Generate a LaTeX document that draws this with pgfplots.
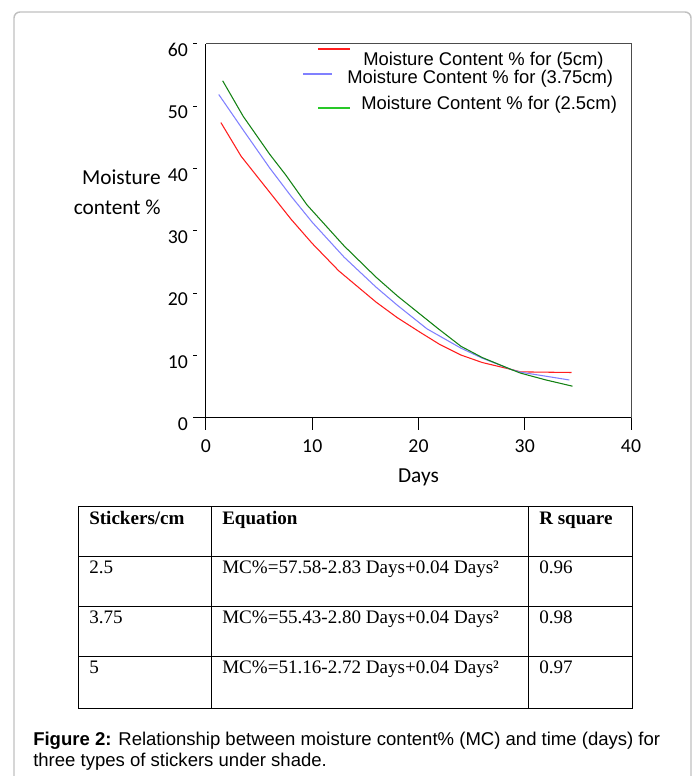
\documentclass[border=0pt]{standalone}
\usepackage{pgfplots}
\pgfplotsset{compat=1.18}
\usepackage{fontspec}
\setmainfont{Carlito}
\newfontfamily\arialf{Liberation Sans}
\newfontfamily\timesf{Liberation Serif}

\definecolor{cred}{RGB}{255,30,30}
\definecolor{cblue}{RGB}{128,128,255}
\definecolor{cgreen}{RGB}{20,130,20}
\definecolor{lgreen}{RGB}{40,200,40}
\definecolor{outline}{RGB}{192,192,192}

\begin{document}
\begin{tikzpicture}[x=0.75pt,y=0.75pt]
\useasboundingbox (0,0) rectangle (697,776);
% outer box of the figure
\draw[outline, line width=1.1pt, rounded corners=4.5pt] (14,-30) -- (14,{776-12}) -- (691,{776-12}) -- (691,-30);

\begin{axis}[
  at={(154.5pt,268.5pt)}, anchor=south west,
  scale only axis, width=318.75pt, height=280.5pt,
  xmin=0, xmax=40, ymin=0, ymax=60,
  axis lines=left, axis line style={black, line width=0.75pt, -},
  xtick={0,10,20,30,40}, ytick={0,10,...,60},
  tick align=outside, major tick length=9pt,
  ytick style={draw=none},
  xtick style={black, line width=0.75pt},
  tick label style={font=\fontsize{14.8}{17}\selectfont},
  /pgf/number format/assume math mode=true,
  xticklabel style={yshift=-4pt},
  yticklabel style={yshift=-4.5pt, xshift=-1pt},
  xlabel={Days}, ylabel={Moisture\\content \%},
  label style={font=\fontsize{16}{22.5}\selectfont},
  xlabel style={at={(axis description cs:0.5,-0.158)}, anchor=center},
  ylabel style={at={(axis description cs:-0.106,0.604)}, rotate=-90, anchor=east, align=right, inner sep=0pt},
  clip=false,
]
% 5 cm
\addplot[cred, line width=0.8pt] coordinates {
  (1.4,47.4) (3.3,42.0) (6,36.2) (8,31.9) (10,28.0) (12.5,23.6) (16,18.6)
  (18,16.1) (20.2,13.7) (22,11.8) (24,10.1) (26,8.9) (28.7,7.8) (29.6,7.4) (34.4,7.3)};
% 3.75 cm
\addplot[cblue, line width=0.8pt] coordinates {
  (1.2,51.9) (3.5,46.2) (6,40.1) (8,35.6) (10,31.4) (13,25.8) (16,21.0)
  (18,18.1) (20.8,14.3) (24,11.2) (26,9.6) (28.7,7.8) (29.6,7.35) (32,6.7) (34.2,6.1)};
% 2.5 cm
\addplot[cgreen, line width=0.8pt] coordinates {
  (1.57,54.1) (3.5,48.4) (6,42.3) (7.5,39.0) (9.5,34.2) (13,27.6) (16,22.6)
  (18,19.6) (21.8,14.4) (24,11.5) (26,9.7) (28.7,7.8) (29.6,7.2) (32,6.1) (34.5,5.1)};
% frame and detached y ticks
\draw[black!70, line width=0.75pt] (rel axis cs:0,1) -- (rel axis cs:1,1) -- (rel axis cs:1,0);
\draw[black, line width=0.75pt] (axis cs:0,0) -- ++(-9.75pt,0);
\draw[black, line width=0.75pt] (axis cs:0,10) ++(-6.75pt,0) -- ++(-3pt,0);
\draw[black, line width=0.75pt] (axis cs:0,20) ++(-6.75pt,0) -- ++(-3pt,0);
\draw[black, line width=0.75pt] (axis cs:0,30) ++(-6.75pt,0) -- ++(-3pt,0);
\draw[black, line width=0.75pt] (axis cs:0,40) ++(-6.75pt,0) -- ++(-3pt,0);
\draw[black, line width=0.75pt] (axis cs:0,50) ++(-6.75pt,0) -- ++(-3pt,0);
\draw[black, line width=0.75pt] (axis cs:0,60) ++(-6.75pt,0) -- ++(-3pt,0);
\end{axis}

% legend, as loosely set as in the original
\draw[cred, line width=0.8pt] (318,{776-49}) -- (350,{776-49});
\node[anchor=base west, inner sep=0pt, font=\arialf\fontsize{13.8}{16}\selectfont] at (363,{776-65.5}) {Moisture Content \% for (5cm)};
\draw[cblue, line width=0.8pt] (303,{776-74}) -- (332,{776-74});
\node[anchor=base west, inner sep=0pt, font=\arialf\fontsize{13.8}{16}\selectfont] at (347,{776-83.5}) {Moisture Content \% for (3.75cm)};
\draw[lgreen, line width=0.8pt] (318,{776-108}) -- (350,{776-108});
\node[anchor=base west, inner sep=0pt, font=\arialf\fontsize{13.8}{16}\selectfont] at (361,{776-110}) {Moisture Content \% for (2.5cm)};

% table of fitted equations
\draw[black, line width=0.75pt] (78,{776-507}) rectangle (632,{776-709});
\draw[black, line width=0.75pt] (78,{776-557}) -- (632,{776-557});
\draw[black, line width=0.75pt] (78,{776-607}) -- (632,{776-607});
\draw[black, line width=0.75pt] (78,{776-657}) -- (632,{776-657});
\draw[black, line width=0.75pt] (211,{776-507}) -- (211,{776-709});
\draw[black, line width=0.75pt] (528,{776-507}) -- (528,{776-709});
\begin{scope}[every node/.style={anchor=base west, inner sep=0pt, font=\timesf\fontsize{14.3}{16}\selectfont}]
\node at (89,{776-525}) {\bfseries Stickers/cm};
\node at (222,{776-525}) {\bfseries Equation};
\node at (539,{776-525}) {\bfseries R square};
\node at (89,{776-574}) {2.5};
\node at (222,{776-574}) {MC\%=57.58-2.83 Days+0.04 Days²};
\node at (539,{776-574}) {0.96};
\node at (89,{776-624}) {3.75};
\node at (222,{776-624}) {MC\%=55.43-2.80 Days+0.04 Days²};
\node at (539,{776-624}) {0.98};
\node at (89,{776-674}) {5};
\node at (222,{776-674}) {MC\%=51.16-2.72 Days+0.04 Days²};
\node at (539,{776-674}) {0.97};
\end{scope}

% caption
\node[anchor=base west, inner sep=0pt, font=\arialf\fontsize{13.9}{16}\selectfont] at (33,{776-745})
  {\textbf{Figure 2:} Relationship between moisture content\% (MC) and time (days) for};
\node[anchor=base west, inner sep=0pt, font=\arialf\fontsize{13.9}{16}\selectfont] at (33,{776-767})
  {three types of stickers under shade.};
\end{tikzpicture}
\end{document}
